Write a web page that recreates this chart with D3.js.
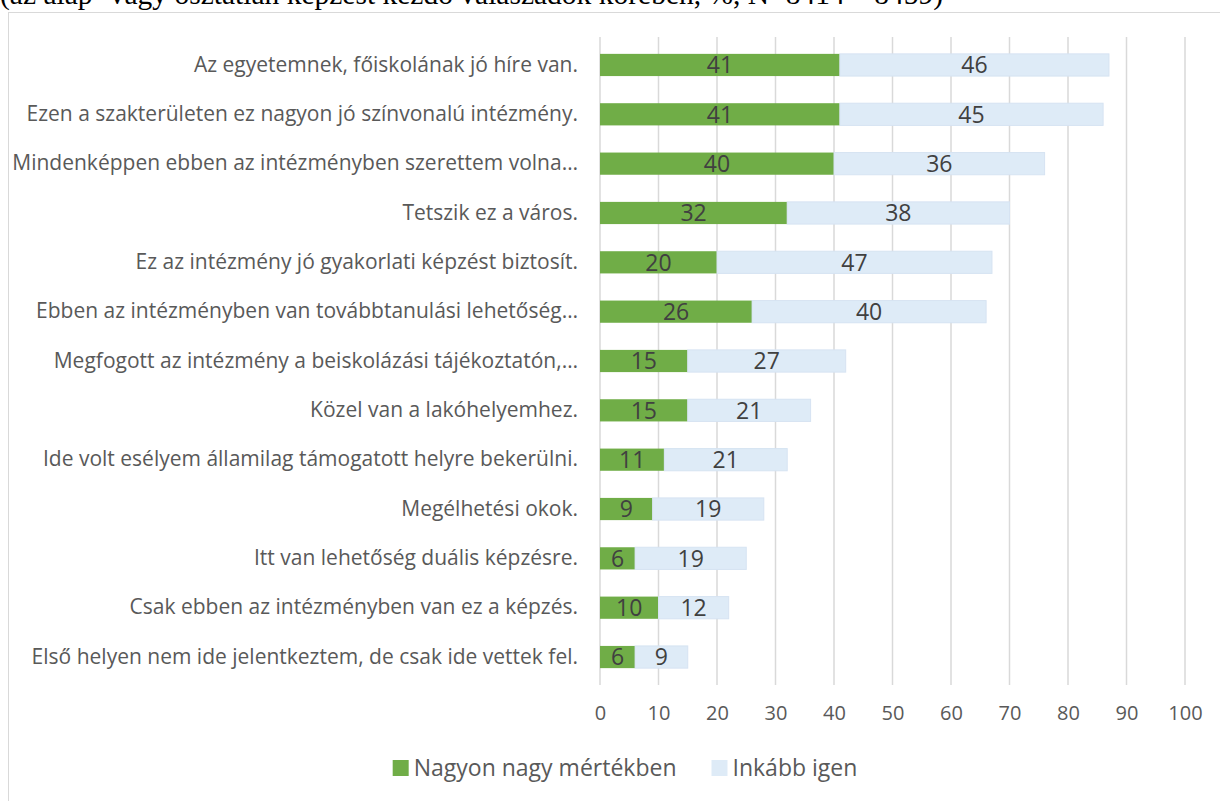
<!DOCTYPE html>
<html lang="hu">
<head>
<meta charset="UTF-8" />
<title>Intézményválasztás okai</title>
<script src="https://d3js.org/d3.v7.min.js"></script>
<style>
  body { margin: 0; background: #fff; }
  .cat text { font-family: "Open Sans", sans-serif; font-size: 21px; fill: #595959; }
  .tick-x text { font-family: "Open Sans", sans-serif; font-size: 20px; fill: #595959; }
  .val { font-family: "Open Sans", sans-serif; font-size: 23px; fill: #404040; }
  .legend text { font-family: "Open Sans", sans-serif; font-size: 23px; fill: #595959; }
  .title { font-family: "Liberation Serif", "Times New Roman", serif; font-size: 29.5px; fill: #000; }
</style>
</head>
<body>
<div id="chart"></div>
<script>
// kategóriák, felülről lefelé
const categories = [
  "Az egyetemnek, főiskolának jó híre van.",
  "Ezen a szakterületen ez nagyon jó színvonalú intézmény.",
  "Mindenképpen ebben az intézményben szerettem volna…",
  "Tetszik ez a város.",
  "Ez az intézmény jó gyakorlati képzést biztosít.",
  "Ebben az intézményben van továbbtanulási lehetőség…",
  "Megfogott az intézmény a beiskolázási tájékoztatón,…",
  "Közel van a lakóhelyemhez.",
  "Ide volt esélyem államilag támogatott helyre bekerülni.",
  "Megélhetési okok.",
  "Itt van lehetőség duális képzésre.",
  "Csak ebben az intézményben van ez a képzés.",
  "Első helyen nem ide jelentkeztem, de csak ide vettek fel."
];
const nagyon = [41, 41, 40, 32, 20, 26, 15, 15, 11, 9, 6, 10, 6];
const inkabb = [46, 45, 36, 38, 47, 40, 27, 21, 21, 19, 19, 12, 9];
const seriesNames = ["Nagyon nagy mértékben", "Inkább igen"];
const seriesColors = ["#70AD47", "#DEEBF7"];
const xTicks = [0, 10, 20, 30, 40, 50, 60, 70, 80, 90, 100];

const W = 1220, H = 801;
const svg = d3.select("#chart").append("svg")
  .attr("width", W).attr("height", H);

svg.append("rect").attr("width", W).attr("height", H).attr("fill", "#fff");

// keret
svg.append("rect")
  .attr("x", 8.5).attr("y", 12.5)
  .attr("width", W + 10).attr("height", H)
  .attr("fill", "none").attr("stroke", "#d9d9d9");

// a kép tetején levágott alcím
svg.append("text").attr("class", "title")
  .attr("x", 0).attr("y", 4)
  .text("(az alap- vagy osztatlan képzést kezdő válaszadók körében, %, N=8414 – 8459)");

const x = d3.scaleLinear().domain([0, 100]).range([600, 1185]);
const y = d3.scaleBand().domain(categories).range([40.3, 681.7])
  .paddingInner(0.55).paddingOuter(0.275);

// rácsvonalak
svg.append("g").selectAll("line").data(xTicks).join("line")
  .attr("x1", d => x(d)).attr("x2", d => x(d))
  .attr("y1", 37).attr("y2", 685)
  .attr("stroke", "#d9d9d9").attr("stroke-width", 1.5);

// x tengely feliratok
const xAxis = svg.append("g").attr("class", "tick-x")
  .attr("transform", "translate(0,685)")
  .call(d3.axisBottom(x).tickValues(xTicks).tickSize(0).tickPadding(21));
xAxis.select(".domain").remove();

// kategória feliratok
const yAxis = svg.append("g").attr("class", "cat")
  .attr("transform", "translate(600,0)")
  .call(d3.axisLeft(y).tickSize(0).tickPadding(22));
yAxis.select(".domain").remove();

const rows = categories.map((c, i) => ({ cat: c, a: nagyon[i], b: inkabb[i] }));
const stack = d3.stack().keys(["a", "b"])(rows);

const layer = svg.append("g").selectAll("g").data(stack).join("g")
  .attr("fill", (d, i) => seriesColors[i]);

layer.selectAll("rect").data(d => d).join("rect")
  .attr("x", d => x(d[0]))
  .attr("y", d => y(d.data.cat))
  .attr("width", d => x(d[1]) - x(d[0]))
  .attr("height", y.bandwidth())
  .attr("stroke", (d, i, n) => d3.select(n[i].parentNode).datum().key === "b" ? "#d6e3f2" : "none")
  .attr("stroke-width", 1);

layer.selectAll("text").data(d => d).join("text")
  .attr("class", "val")
  .attr("x", d => (x(d[0]) + x(d[1])) / 2)
  .attr("y", d => y(d.data.cat) + y.bandwidth() / 2)
  .attr("dy", "0.36em")
  .attr("text-anchor", "middle")
  .text(d => d[1] - d[0]);

// jelmagyarázat
const legend = svg.append("g").attr("class", "legend");
let lx = 0;
seriesNames.forEach((name, i) => {
  const g = legend.append("g").attr("transform", `translate(${lx},0)`);
  g.append("rect").attr("x", 0).attr("y", -8).attr("width", 16).attr("height", 16)
    .attr("fill", seriesColors[i]);
  const t = g.append("text").attr("x", 21).attr("y", 0).attr("dy", "0.36em").text(name);
  lx += 21 + t.node().getComputedTextLength() + 35;
});
const legendW = lx - 35;
legend.attr("transform", `translate(${625 - legendW / 2},768)`);
</script>
</body>
</html>
